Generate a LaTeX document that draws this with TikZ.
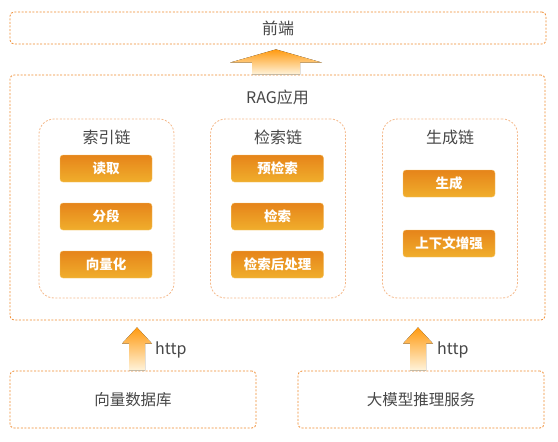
\documentclass[tikz,border=0pt]{standalone}
\usepackage{fontspec}
\setmainfont{Noto Sans CJK SC}
\usetikzlibrary{calc}
\definecolor{txt}{HTML}{474747}
\definecolor{dashorange}{HTML}{EE8A2E}
\definecolor{lightdash}{HTML}{F4B88A}
\definecolor{btntop}{HTML}{E6841A}
\definecolor{btnbot}{HTML}{F0AE2C}
\definecolor{arrtop}{HTML}{FF9A10}
\definecolor{arrbot}{HTML}{FFF4DC}
\tikzset{
  outerbox/.style={draw=dashorange, line width=0.8pt, dash pattern=on 2pt off 1.6pt, rounded corners=4pt, minimum height=#1},
  chainbox/.style={draw=lightdash, line width=0.8pt, dash pattern=on 2pt off 1.6pt, rounded corners=15pt, minimum width=135pt, minimum height=179pt},
  btn/.style={rounded corners=3pt, top color=btntop, bottom color=btnbot, draw=btnbot!70!white, line width=0.4pt, text=white, font=\fontsize{13.5}{15}\selectfont\bfseries, minimum width=92pt, minimum height=27pt, inner sep=0pt},
  title/.style={text=txt, font=\fontsize{16}{18}\selectfont},
  lbl/.style={text=txt, font=\fontsize{16}{18}\selectfont},
  blabel/.style={text=txt, font=\fontsize{15.5}{17}\selectfont},
  blockarrow/.style={top color=arrtop, bottom color=arrbot, draw=none},
}
\begin{document}
\begin{tikzpicture}[x=1pt,y=-1pt]
\useasboundingbox (0,0) rectangle (558,442);
% top box
\node[outerbox=32pt, minimum width=536pt, inner sep=0pt, lbl] (front) at (278,28) {前端};
% RAG box
\node[outerbox=245pt, minimum width=535pt, inner sep=0pt] (rag) at (277.5,197.5) {};
\node[lbl] (ragtitle) at (277.5,97) {RAG应用};
% chain boxes
\node[chainbox] (c1) at (106.5,208.5) {};
\node[chainbox] (c2) at (278,208.5) {};
\node[chainbox] (c3) at (450,208.5) {};
\node[title] (t1) at (106.5,137) {索引链};
\node[title] (t2) at (278,137) {检索链};
\node[title] (t3) at (450,137) {生成链};
% buttons
\node[btn] (b11) at (106,168.5) {读取};
\node[btn] (b12) at (106,216.5) {分段};
\node[btn] (b13) at (106,264.5) {向量化};
\node[btn] (b21) at (277.5,168.5) {预检索};
\node[btn] (b22) at (277.5,216.5) {检索};
\node[btn] (b23) at (277.5,264.5) {检索后处理};
\node[btn] (b31) at (449,183.5) {生成};
\node[btn] (b32) at (449,243.5) {上下文增强};
% bottom boxes
\node[outerbox=57pt, minimum width=246pt, inner sep=0pt, blabel] (vdb) at (133,399.5) {向量数据库};
\node[outerbox=57pt, minimum width=246pt, inner sep=0pt, blabel] (llm) at (421,399.5) {大模型推理服务};
% big arrow RAG -> front
\fill[blockarrow]
  ($(rag.north)+(-25.5,0)$) -- ($(rag.north)+(-25.5,-12)$) -- ($(rag.north)+(-47.5,-12)$) --
  ($(front.south)+(-2,5)$) --
  ($(rag.north)+(44.5,-12)$) -- ($(rag.north)+(22.5,-12)$) -- ($(rag.north)+(22.5,0)$) -- cycle;
% small arrows
\coordinate (a1b) at (vdb.north -| 137,0);
\coordinate (a1t) at (rag.south -| 137,0);
\fill[blockarrow]
  ($(a1b)+(-8,0)$) -- ($(a1b)+(-8,-27)$) -- ($(a1b)+(-15,-27)$) -- ($(a1t)+(0,7)$) --
  ($(a1b)+(15,-27)$) -- ($(a1b)+(8,-27)$) -- ($(a1b)+(8,0)$) -- cycle;
\coordinate (a2b) at (llm.north -| 418,0);
\coordinate (a2t) at (rag.south -| 418,0);
\fill[blockarrow]
  ($(a2b)+(-8,0)$) -- ($(a2b)+(-8,-27)$) -- ($(a2b)+(-15,-27)$) -- ($(a2t)+(0,7)$) --
  ($(a2b)+(15,-27)$) -- ($(a2b)+(8,-27)$) -- ($(a2b)+(8,0)$) -- cycle;
\node[lbl, anchor=west, inner sep=0pt] (h1) at (155,350) {http};
\node[lbl, anchor=west, inner sep=0pt] (h2) at (437,350) {http};
\end{tikzpicture}
\end{document}
